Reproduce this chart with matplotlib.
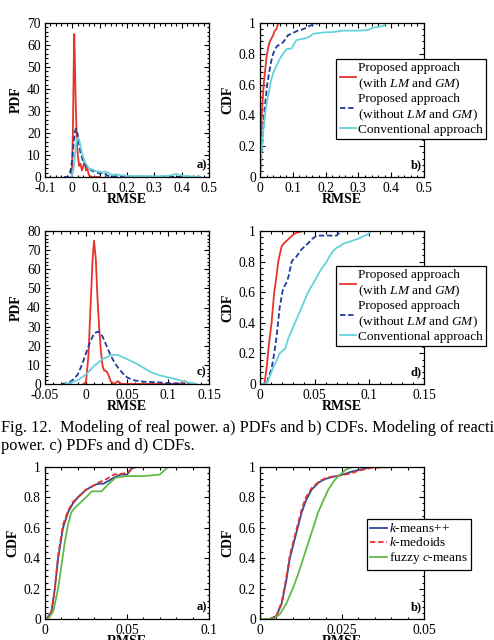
import numpy as np
import matplotlib
matplotlib.use('Agg')
import matplotlib.pyplot as plt
from matplotlib.ticker import AutoMinorLocator, FuncFormatter

plt.rcParams['font.family'] = ['Liberation Serif', 'DejaVu Serif']
plt.rcParams['mathtext.fontset'] = 'custom'
plt.rcParams['mathtext.rm'] = 'Liberation Serif'
plt.rcParams['mathtext.it'] = 'Liberation Serif:italic'
plt.rcParams['axes.unicode_minus'] = False

RED = '#e8332a'
BLUE = '#1f3c98'
CYAN = '#66d3dc'
KBLUE = '#2a4b9e'
GREEN = '#62b946'

# ---- a) PDFs, real power
a_red_x = [-0.01, -0.002, 0.002, 0.005, 0.007, 0.009, 0.012, 0.016, 0.02, 0.025, 0.03,
           0.035, 0.04, 0.045, 0.05, 0.055, 0.06, 0.065, 0.07, 0.1]
a_red_y = [0, 0, 20, 50, 65, 55, 35, 18, 10, 5, 6, 3, 5, 7, 3, 4, 1, 0.5, 0, 0]
a_blue_x = [-0.03, -0.015, -0.008, 0, 0.005, 0.01, 0.014, 0.02, 0.025, 0.03, 0.035, 0.04,
            0.05, 0.06, 0.07, 0.08, 0.09, 0.1, 0.11, 0.12, 0.13, 0.15, 0.2, 0.3, 0.4, 0.47]
a_blue_y = [0, 0, 2, 8, 16, 21, 22, 19, 15, 11, 9, 7, 5, 4, 3, 2.5, 2, 1.5, 2, 1.5, 0.5,
            0.3, 0.2, 0.1, 0.1, 0]
a_cyan_x = [-0.01, -0.003, 0.005, 0.01, 0.015, 0.02, 0.025, 0.03, 0.035, 0.04, 0.045, 0.05,
            0.055, 0.06, 0.07, 0.08, 0.09, 0.1, 0.11, 0.12, 0.13, 0.14, 0.15, 0.16, 0.18,
            0.2, 0.25, 0.3, 0.35, 0.37, 0.38, 0.39, 0.41, 0.45, 0.47]
a_cyan_y = [0, 0, 4, 10, 16, 18, 17, 14, 11, 9, 7, 6, 5, 4, 3.5, 3, 2.5, 2.5, 2, 2.5, 2,
            1.2, 1, 1.2, 0.8, 0.5, 0.4, 0.3, 0.5, 1, 1.5, 1, 0.4, 0.2, 0.1]

# ---- b) CDFs, real power
b_red_x = [0, 0.002, 0.005, 0.008, 0.012, 0.016, 0.02, 0.025, 0.03, 0.035, 0.04, 0.045,
           0.05, 0.053, 0.056]
b_red_y = [0, 0.2, 0.38, 0.5, 0.62, 0.7, 0.78, 0.84, 0.88, 0.9, 0.92, 0.95, 0.96, 0.98, 1.0]
b_blue_x = [0, 0.003, 0.008, 0.012, 0.017, 0.022, 0.028, 0.034, 0.04, 0.046, 0.052, 0.06,
            0.068, 0.076, 0.085, 0.095, 0.105, 0.115, 0.125, 0.137, 0.15, 0.163, 0.18,
            0.2, 0.24]
b_blue_y = [0, 0.1, 0.25, 0.38, 0.5, 0.6, 0.68, 0.75, 0.8, 0.83, 0.85, 0.86, 0.87, 0.89,
            0.92, 0.93, 0.94, 0.95, 0.955, 0.965, 0.98, 0.99, 1.0, 1.0, 1.0]
b_cyan_x = [0, 0.004, 0.01, 0.016, 0.022, 0.028, 0.034, 0.041, 0.05, 0.061, 0.07, 0.081,
            0.097, 0.105, 0.112, 0.125, 0.137, 0.15, 0.162, 0.18, 0.2, 0.218, 0.25, 0.3,
            0.33, 0.345, 0.36, 0.375, 0.385, 0.4, 0.44]
b_cyan_y = [0, 0.15, 0.3, 0.42, 0.5, 0.56, 0.63, 0.68, 0.72, 0.77, 0.8, 0.83, 0.835, 0.87,
            0.89, 0.895, 0.9, 0.91, 0.93, 0.935, 0.94, 0.94, 0.95, 0.95, 0.955, 0.97,
            0.975, 0.98, 1.0, 1.0, 1.0]

# ---- c) PDFs, reactive power
c_red_x = [-0.003, 0.0, 0.003, 0.006, 0.008, 0.0098, 0.012, 0.014, 0.016, 0.018, 0.02,
           0.022, 0.024, 0.026, 0.028, 0.03, 0.033, 0.036, 0.039, 0.042, 0.045, 0.1,
           0.115, 0.12, 0.125, 0.13]
c_red_y = [0, 1, 15, 45, 65, 75, 65, 45, 30, 18, 10, 7, 7, 6, 4, 1.5, 0.3, 0.5, 1.5, 0.3,
           0, 0, 0.2, 1.5, 0.2, 0]
c_blue_x = [-0.03, -0.025, -0.02, -0.015, -0.01, -0.005, 0, 0.005, 0.01, 0.015, 0.02,
            0.025, 0.03, 0.035, 0.04, 0.045, 0.05, 0.055, 0.06, 0.07, 0.08, 0.09, 0.1,
            0.11, 0.12]
c_blue_y = [0, 0.3, 1, 2.5, 5, 10, 16, 22, 26.5, 27.5, 25, 20, 15, 11, 8, 5.5, 3.5, 2.5,
            1.8, 1.2, 1, 0.8, 0.5, 0.3, 0]
c_cyan_x = [-0.025, -0.02, -0.01, 0, 0.01, 0.02, 0.03, 0.035, 0.04, 0.05, 0.06, 0.07,
            0.08, 0.09, 0.1, 0.11, 0.12, 0.13, 0.135]
c_cyan_y = [0, 0.5, 2, 5, 9.5, 13, 15, 15.3, 15, 13, 11, 8.5, 6, 4.5, 3.5, 2.5, 1.2, 0.3, 0]

# ---- d) CDFs, reactive power
d_red_x = [0, 0.004, 0.006, 0.008, 0.0106, 0.013, 0.015, 0.0167, 0.0185, 0.0198, 0.022,
           0.025, 0.028, 0.031, 0.034, 0.037, 0.04]
d_red_y = [0, 0, 0.1, 0.25, 0.4, 0.6, 0.7, 0.8, 0.86, 0.9, 0.92, 0.94, 0.96, 0.98, 0.99,
           0.995, 1.0]
d_blue_x = [0, 0.006, 0.008, 0.0106, 0.013, 0.015, 0.018, 0.021, 0.024, 0.026, 0.029,
            0.031, 0.033, 0.036, 0.038, 0.041, 0.044, 0.048, 0.052, 0.06, 0.07, 0.073, 0.076]
d_blue_y = [0, 0, 0.05, 0.1, 0.2, 0.3, 0.5, 0.62, 0.66, 0.7, 0.8, 0.82, 0.83, 0.86, 0.88,
            0.9, 0.92, 0.95, 0.97, 0.97, 0.97, 0.99, 1.0]
d_cyan_x = [0, 0.006, 0.009, 0.0116, 0.015, 0.018, 0.021, 0.023, 0.026, 0.029, 0.032,
            0.035, 0.038, 0.041, 0.044, 0.048, 0.052, 0.056, 0.061, 0.064, 0.067, 0.07,
            0.073, 0.077, 0.082, 0.086, 0.09, 0.093, 0.096, 0.099, 0.102]
d_cyan_y = [0, 0, 0.05, 0.1, 0.15, 0.2, 0.22, 0.23, 0.3, 0.35, 0.4, 0.45, 0.5, 0.55, 0.6,
            0.65, 0.7, 0.75, 0.8, 0.84, 0.87, 0.89, 0.9, 0.92, 0.93, 0.94, 0.95, 0.96,
            0.97, 0.98, 1.0]

# ---- lower figure, a) clustering CDFs
e_km_x = [0, 0.001, 0.004, 0.006, 0.008, 0.011, 0.014, 0.017, 0.02, 0.025, 0.03, 0.0325,
          0.0356, 0.039, 0.042, 0.046, 0.05, 0.053, 0.055, 0.06]
e_km_y = [0, 0, 0.05, 0.2, 0.4, 0.6, 0.7, 0.76, 0.8, 0.85, 0.88, 0.89, 0.89, 0.91, 0.93,
          0.95, 0.95, 0.99, 1.0, 1.0]
e_kmed_x = [0, 0.001, 0.004, 0.006, 0.008, 0.011, 0.014, 0.017, 0.02, 0.025, 0.03, 0.033,
            0.0356, 0.039, 0.042, 0.046, 0.05, 0.053, 0.056]
e_kmed_y = [0, 0, 0.05, 0.2, 0.42, 0.62, 0.71, 0.77, 0.8, 0.85, 0.88, 0.9, 0.91, 0.93,
            0.95, 0.955, 0.96, 0.99, 1.0]
e_fcm_x = [0, 0.002, 0.005, 0.008, 0.01, 0.012, 0.014, 0.016, 0.018, 0.02, 0.025, 0.0285,
           0.031, 0.0345, 0.038, 0.043, 0.05, 0.06, 0.07, 0.073, 0.075, 0.078]
e_fcm_y = [0, 0, 0.05, 0.2, 0.35, 0.5, 0.62, 0.7, 0.73, 0.75, 0.8, 0.84, 0.84, 0.84, 0.88,
           0.93, 0.94, 0.94, 0.95, 0.98, 1.0, 1.0]

# ---- lower figure, b)
f_x = [0, 0.003, 0.005, 0.0066, 0.008, 0.0091, 0.011, 0.0127, 0.014, 0.0157, 0.018,
       0.0198, 0.022, 0.0233, 0.026, 0.028, 0.030, 0.032, 0.034, 0.042]
f_km_y = [0, 0, 0.02, 0.1, 0.25, 0.4, 0.56, 0.7, 0.78, 0.85, 0.9, 0.92, 0.935, 0.94,
          0.955, 0.97, 0.98, 0.99, 1.0, 1.0]
f_kmed_y = [0, 0, 0.02, 0.11, 0.27, 0.42, 0.58, 0.72, 0.8, 0.86, 0.905, 0.925, 0.937,
            0.94, 0.95, 0.96, 0.975, 0.985, 0.995, 1.0]
f_fcm_x = [0, 0.004, 0.006, 0.008, 0.01, 0.0117, 0.0132, 0.0147, 0.0162, 0.0177, 0.0193,
           0.0208, 0.0223, 0.0238, 0.025, 0.026, 0.027, 0.0284, 0.032, 0.042]
f_fcm_y = [0, 0, 0.03, 0.1, 0.2, 0.3, 0.4, 0.5, 0.6, 0.7, 0.78, 0.85, 0.9, 0.94, 0.96,
           0.98, 0.99, 1.0, 1.0, 1.0]

labels_main = ['Proposed approach\n(with $\\mathit{LM}$ and $\\mathit{GM}$)',
               'Proposed approach\n(without $\\mathit{LM}$ and $\\mathit{GM}$)',
               'Conventional approach']
labels_clu = ['$\\mathit{k}$-means++', '$\\mathit{k}$-medoids', 'fuzzy $\\mathit{c}$-means']

W, H = 494, 640
fig = plt.figure(figsize=(W / 100, H / 100), dpi=100)


def make_ax(l, t, r, b):
    return fig.add_axes([l / W, 1 - b / H, (r - l) / W, (b - t) / H])


def style(ax, xlim, xticks, ylim, yticks, ylabel, tag):
    ax.set_xlim(xlim)
    ax.set_ylim(ylim)
    ax.set_xticks(xticks)
    ax.set_yticks(yticks)
    fmt = FuncFormatter(lambda v, p: '%g' % round(v, 4))
    ax.xaxis.set_major_formatter(fmt)
    ax.yaxis.set_major_formatter(fmt)
    ax.xaxis.set_minor_locator(AutoMinorLocator(5))
    ax.yaxis.set_minor_locator(AutoMinorLocator(5))
    ax.tick_params(which='both', direction='in', top=True, right=True, width=0.8,
                   labelsize=9.8)
    ax.tick_params(which='major', length=3.5)
    ax.tick_params(which='minor', length=1.8)
    ax.tick_params(axis='x', pad=3.5)
    ax.tick_params(axis='y', pad=3)
    for s in ax.spines.values():
        s.set_linewidth(0.9)
    ax.set_xlabel('RMSE', fontsize=10, fontweight='bold', labelpad=-1)
    ax.set_ylabel(ylabel, fontsize=10, fontweight='bold', labelpad=3)
    ax.text(0.985, 0.035, tag, transform=ax.transAxes, ha='right', va='bottom',
            fontsize=9, fontweight='bold')


def legend(ax, handles, labels, x1, y1):
    lg = ax.legend(handles, labels, loc='upper right', bbox_to_anchor=(x1 / W, 1 - y1 / H),
                   bbox_transform=fig.transFigure, fontsize=9.6, frameon=True,
                   fancybox=False, framealpha=1, edgecolor='black', borderpad=0.25,
                   handlelength=1.25, handletextpad=0.12, labelspacing=0.08,
                   borderaxespad=0)
    lg.get_frame().set_linewidth(0.9)


lw = 1.3

ax = make_ax(45, 23, 209, 177)
ax.plot(a_red_x, a_red_y, color=RED, lw=lw)
ax.plot(a_blue_x, a_blue_y, color=BLUE, lw=lw, ls='--', dashes=(3, 1.5))
ax.plot(a_cyan_x, a_cyan_y, color=CYAN, lw=lw)
style(ax, (-0.1, 0.5), np.arange(-0.1, 0.51, 0.1), (0, 70), np.arange(0, 71, 10), 'PDF', 'a)')

ax = make_ax(260, 23, 424, 177)
h1, = ax.plot(b_red_x, b_red_y, color=RED, lw=lw)
h2, = ax.plot(b_blue_x, b_blue_y, color=BLUE, lw=lw, ls='--', dashes=(3, 1.5))
h3, = ax.plot(b_cyan_x, b_cyan_y, color=CYAN, lw=lw)
style(ax, (0, 0.5), np.arange(0, 0.51, 0.1), (0, 1), np.arange(0, 1.01, 0.2), 'CDF', 'b)')
legend(ax, [h1, h2, h3], labels_main, 486, 59)

ax = make_ax(45, 231, 209, 384)
ax.plot(c_red_x, c_red_y, color=RED, lw=lw)
ax.plot(c_blue_x, c_blue_y, color=BLUE, lw=lw, ls='--', dashes=(3, 1.5))
ax.plot(c_cyan_x, c_cyan_y, color=CYAN, lw=lw)
style(ax, (-0.05, 0.15), np.arange(-0.05, 0.151, 0.05), (0, 80), np.arange(0, 81, 10),
      'PDF', 'c)')

ax = make_ax(260, 231, 424, 384)
h1, = ax.plot(d_red_x, d_red_y, color=RED, lw=lw)
h2, = ax.plot(d_blue_x, d_blue_y, color=BLUE, lw=lw, ls='--', dashes=(3, 1.5))
h3, = ax.plot(d_cyan_x, d_cyan_y, color=CYAN, lw=lw)
style(ax, (0, 0.15), np.arange(0, 0.151, 0.05), (0, 1), np.arange(0, 1.01, 0.2), 'CDF', 'd)')
legend(ax, [h1, h2, h3], labels_main, 486, 266)

fig.text(1 / W, 1 - 432 / H,
         'Fig. 12.  Modeling of real power. a) PDFs and b) CDFs. Modeling of reactive',
         fontsize=11.8, va='baseline', ha='left')
fig.text(1 / W, 1 - 450 / H, 'power. c) PDFs and d) CDFs.',
         fontsize=11.8, va='baseline', ha='left')

ax = make_ax(45, 467, 209, 619)
ax.plot(e_km_x, e_km_y, color=KBLUE, lw=lw)
ax.plot(e_kmed_x, e_kmed_y, color=RED, lw=lw, ls='--', dashes=(3, 1.5))
ax.plot(e_fcm_x, e_fcm_y, color=GREEN, lw=lw)
style(ax, (0, 0.1), [0, 0.05, 0.1], (0, 1), np.arange(0, 1.01, 0.2), 'CDF', 'a)')

ax = make_ax(260, 467, 424, 619)
h1, = ax.plot(f_x, f_km_y, color=KBLUE, lw=lw)
h2, = ax.plot(f_x, f_kmed_y, color=RED, lw=lw, ls='--', dashes=(3, 1.5))
h3, = ax.plot(f_fcm_x, f_fcm_y, color=GREEN, lw=lw)
style(ax, (0, 0.05), [0, 0.025, 0.05], (0, 1), np.arange(0, 1.01, 0.2), 'CDF', 'b)')
legend(ax, [h1, h2, h3], labels_clu, 471, 519)

fig.savefig('out.png', dpi=100)
